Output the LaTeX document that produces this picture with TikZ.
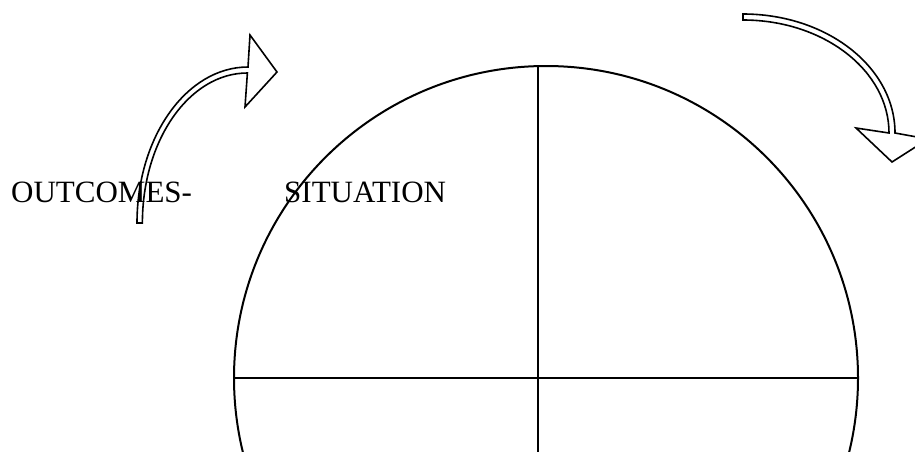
\documentclass[tikz,border=0pt]{standalone}
\usepackage{fontspec}
\setmainfont{Liberation Serif}
\begin{document}
\begin{tikzpicture}[x=1pt,y=-1pt,
  outline/.style={draw=black,line width=1.6pt,line join=miter},
  rim/.style={draw=black,line width=2pt},
  cross/.style={draw=black,line width=2.6pt},
  label/.style={inner sep=0pt,anchor=base west,font=\fontsize{31}{37}\selectfont}]
\useasboundingbox (0,0) rectangle (915,451);
\clip (0,0) rectangle (915,451);
% circle and cross
\coordinate (c) at (546,378);
\draw[rim] (c) circle[radius=312pt];
\coordinate (vt) at (538,66);
\coordinate (vb) at (538,460);
\coordinate (hl) at (234,378);
\coordinate (hr) at (858,378);
\draw[cross] (vt) -- (vb);
\draw[cross] (hl) -- (hr);
% texts
\node[label] (outc) at (11,202) {OUTCOMES-};
\node[label] (sit) at (284,202) {SITUATION};
% left curved block arrow
\draw[outline] (137,223) arc[start angle=180,end angle=90,x radius=111pt,y radius=156pt]
  -- (250,35) -- (277,72) -- (245,107) -- (247.4,73)
  arc[start angle=90,end angle=180,x radius=105pt,y radius=150pt] -- cycle;
% right curved block arrow
\draw[outline] (743,14) arc[start angle=90,end angle=0,x radius=152pt,y radius=119pt]
  -- (928,139) -- (892,162) -- (856,128) -- (889,133)
  arc[start angle=0,end angle=90,x radius=146pt,y radius=113pt] -- cycle;
\end{tikzpicture}
\end{document}
